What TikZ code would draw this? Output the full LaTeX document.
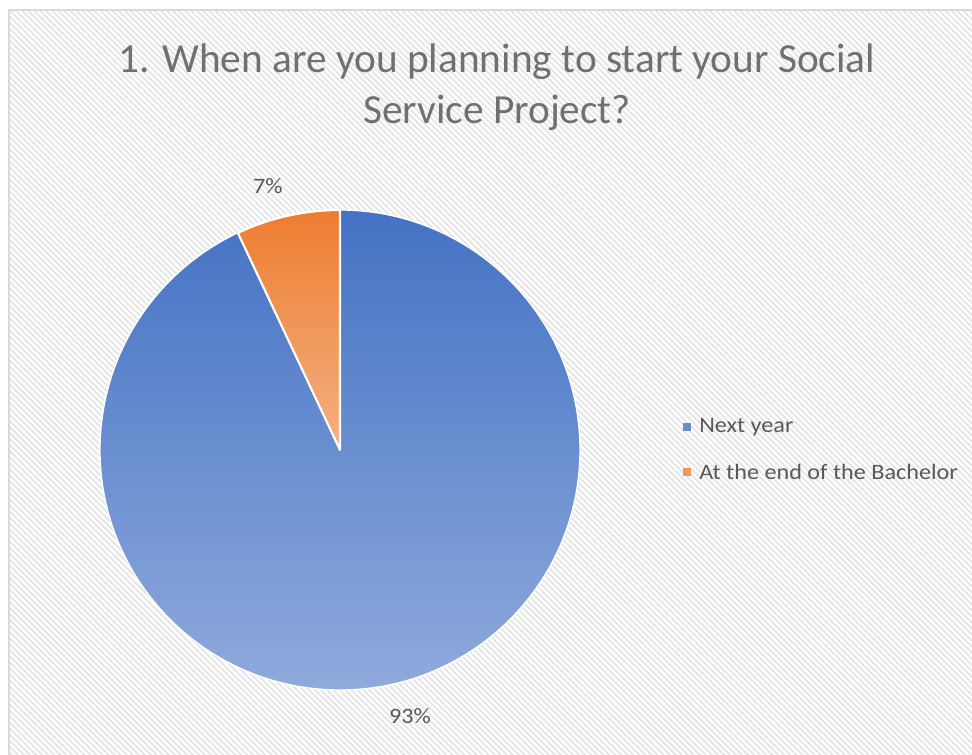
\documentclass[tikz,border=0pt]{standalone}
\usepackage{fontspec}
\setmainfont{Carlito}
\newfontfamily\chartfont[FakeStretch=1.1]{Carlito}
\usepackage{tikz}
\usetikzlibrary{patterns.meta,positioning}

\definecolor{nextblue}{HTML}{4472C4}
\definecolor{nextbluelt}{HTML}{8FAADC}
\definecolor{endorange}{HTML}{ED7D31}
\definecolor{endorangelt}{HTML}{F4B183}
\definecolor{titlegray}{HTML}{707070}
\definecolor{textgray}{HTML}{595959}
\definecolor{framegray}{HTML}{D9D9D9}
\definecolor{stripegray}{HTML}{E4E4E4}

\begin{document}
\begin{tikzpicture}[x=0.75pt,y=0.75pt,
  titletext/.style={font=\fontsize{31}{38.5}\selectfont,text=titlegray,align=center},
  pctlabel/.style={font=\chartfont\fontsize{16.5}{19}\selectfont,text=textgray},
  legtext/.style={font=\chartfont\fontsize{16.5}{19}\selectfont,text=textgray,anchor=west,inner sep=0pt},
  legkey/.style={minimum size=6pt,inner sep=0pt}]
\useasboundingbox (0,0) rectangle (972,755);
% chart area
\fill[white] (0,0) rectangle (972,755);
\fill[pattern={Lines[angle=-45,distance=3.2pt,line width=1.3pt]},pattern color=stripegray] (9,-5) rectangle (980,745);
\draw[framegray,line width=1.5pt] (9,-5) -- (9,745) -- (980,745);
% title
\node[titletext] (title) at (497,668) {1. When are you planning to start your Social\\Service Project?};
% pie
\coordinate (c) at (340,305);
\fill[top color=nextblue,bottom color=nextbluelt] (c) -- ++(90:240) arc (90:-244.8:240) -- cycle;
\fill[top color=endorange,bottom color=endorangelt] (c) -- ++(90:240) arc (90:115.2:240) -- cycle;
\draw[white,line width=1.6pt,line join=round] (c) -- ++(90:240) arc (90:115.2:240) -- cycle;
\draw[white,line width=1pt] (c) circle (240);
% data labels
\node[pctlabel] (pnext) at (410,39) {93\%};
\node[pctlabel] (pend) at (268,569) {7\%};
% legend
\node[legkey,fill=nextblue!80] (knext) at (687,328) {};
\node[legtext] (lnext) at (699,328) {Next year};
\node[legkey,fill=endorange!80] (kend) at (687,283) {};
\node[legtext] (lend) at (699,283) {At the end of the Bachelor};
\end{tikzpicture}
\end{document}
